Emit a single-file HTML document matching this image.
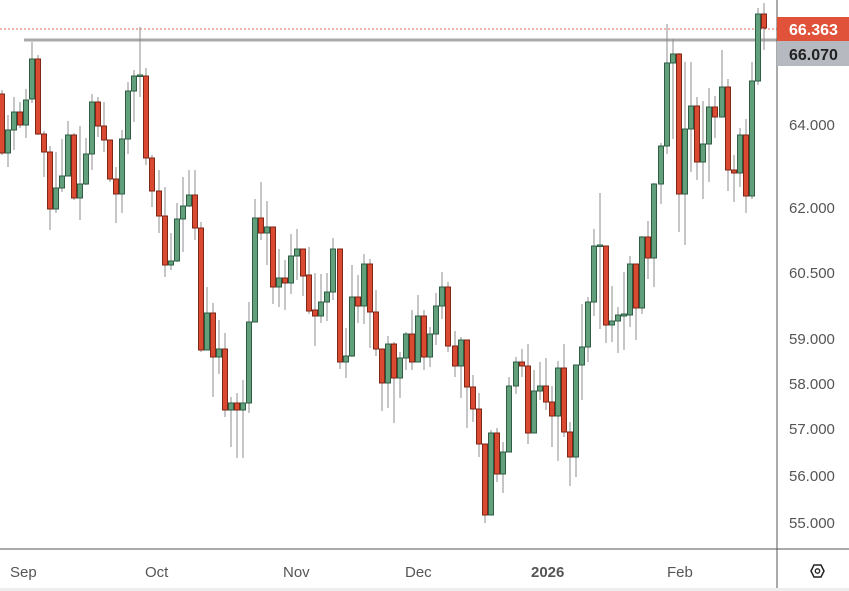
<!DOCTYPE html>
<html><head><meta charset="utf-8"><style>
html,body{margin:0;padding:0;background:#fff;}
svg{display:block;font-family:"Liberation Sans","DejaVu Sans",sans-serif;}
.w{stroke:#8c8c8c;stroke-width:1}
.g{fill:#62a07c;stroke:#2f5d44;stroke-width:1}
.r{fill:#d94a31;stroke:#7e2617;stroke-width:1}
.t{font-size:15px;fill:#555}
</style></head><body>
<svg width="849" height="591" viewBox="0 0 849 591">
<rect width="849" height="591" fill="#fff"/>
<rect x="0" y="588" width="849" height="3" fill="#eee"/>
<line x1="0" y1="29" x2="777" y2="29" stroke="#e06a5a" stroke-width="1" stroke-dasharray="2,2"/>
<line x1="24" y1="40" x2="777" y2="40" stroke="#aaa" stroke-width="3"/>
<g>
<line class="w" x1="2" y1="90" x2="2" y2="155"/><rect class="r" x="-0.5" y="94" width="5" height="59"/>
<line class="w" x1="8" y1="115" x2="8" y2="167"/><rect class="g" x="5.5" y="130" width="5" height="23"/>
<line class="w" x1="14" y1="97" x2="14" y2="150"/><rect class="g" x="11.5" y="112" width="5" height="18"/>
<line class="w" x1="20" y1="102" x2="20" y2="128"/><rect class="r" x="17.5" y="112" width="5" height="13"/>
<line class="w" x1="26" y1="89" x2="26" y2="138"/><rect class="g" x="23.5" y="100" width="5" height="25"/>
<line class="w" x1="32" y1="42" x2="32" y2="103"/><rect class="g" x="29.5" y="59" width="5" height="40"/>
<line class="w" x1="38" y1="55" x2="38" y2="135"/><rect class="r" x="35.5" y="59" width="5" height="75"/>
<line class="w" x1="44" y1="131" x2="44" y2="177"/><rect class="r" x="41.5" y="134" width="5" height="18"/>
<line class="w" x1="50" y1="146" x2="50" y2="230"/><rect class="r" x="47.5" y="152" width="5" height="57"/>
<line class="w" x1="56" y1="152" x2="56" y2="213"/><rect class="g" x="53.5" y="188" width="5" height="21"/>
<line class="w" x1="62" y1="139" x2="62" y2="192"/><rect class="g" x="59.5" y="176" width="5" height="12"/>
<line class="w" x1="68" y1="121" x2="68" y2="176"/><rect class="g" x="65.5" y="135" width="5" height="41"/>
<line class="w" x1="74" y1="133" x2="74" y2="200"/><rect class="r" x="71.5" y="135" width="5" height="63"/>
<line class="w" x1="80" y1="126" x2="80" y2="220"/><rect class="g" x="77.5" y="184" width="5" height="14"/>
<line class="w" x1="86" y1="138" x2="86" y2="185"/><rect class="g" x="83.5" y="154" width="5" height="30"/>
<line class="w" x1="92" y1="94" x2="92" y2="170"/><rect class="g" x="89.5" y="102" width="5" height="52"/>
<line class="w" x1="98" y1="97" x2="98" y2="137"/><rect class="r" x="95.5" y="102" width="5" height="24"/>
<line class="w" x1="104" y1="102" x2="104" y2="152"/><rect class="r" x="101.5" y="126" width="5" height="14"/>
<line class="w" x1="110" y1="140" x2="110" y2="182"/><rect class="r" x="107.5" y="140" width="5" height="39"/>
<line class="w" x1="116" y1="167" x2="116" y2="223"/><rect class="r" x="113.5" y="179" width="5" height="15"/>
<line class="w" x1="122" y1="130" x2="122" y2="213"/><rect class="g" x="119.5" y="139" width="5" height="55"/>
<line class="w" x1="128" y1="82" x2="128" y2="154"/><rect class="g" x="125.5" y="91" width="5" height="48"/>
<line class="w" x1="134" y1="70" x2="134" y2="122"/><rect class="g" x="131.5" y="76" width="5" height="15"/>
<line class="w" x1="140" y1="27" x2="140" y2="97"/><rect class="g" x="137.5" y="75" width="5" height="1.5"/>
<line class="w" x1="146" y1="68" x2="146" y2="165"/><rect class="r" x="143.5" y="76" width="5" height="82"/>
<line class="w" x1="152" y1="155" x2="152" y2="207"/><rect class="r" x="149.5" y="158" width="5" height="33"/>
<line class="w" x1="159" y1="170" x2="159" y2="233"/><rect class="r" x="156.5" y="191" width="5" height="25"/>
<line class="w" x1="165" y1="187" x2="165" y2="277"/><rect class="r" x="162.5" y="216" width="5" height="49"/>
<line class="w" x1="171" y1="233" x2="171" y2="270"/><rect class="g" x="168.5" y="261" width="5" height="4"/>
<line class="w" x1="177" y1="203" x2="177" y2="262"/><rect class="g" x="174.5" y="219" width="5" height="42"/>
<line class="w" x1="183" y1="177" x2="183" y2="252"/><rect class="g" x="180.5" y="206" width="5" height="13"/>
<line class="w" x1="189" y1="170" x2="189" y2="207"/><rect class="g" x="186.5" y="195" width="5" height="11"/>
<line class="w" x1="195" y1="170" x2="195" y2="240"/><rect class="r" x="192.5" y="195" width="5" height="33"/>
<line class="w" x1="201" y1="222" x2="201" y2="352"/><rect class="r" x="198.5" y="228" width="5" height="122"/>
<line class="w" x1="207" y1="287" x2="207" y2="350"/><rect class="g" x="204.5" y="313" width="5" height="37"/>
<line class="w" x1="213" y1="303" x2="213" y2="397"/><rect class="r" x="210.5" y="313" width="5" height="44"/>
<line class="w" x1="219" y1="320" x2="219" y2="374"/><rect class="g" x="216.5" y="349" width="5" height="8"/>
<line class="w" x1="225" y1="333" x2="225" y2="417"/><rect class="r" x="222.5" y="349" width="5" height="61"/>
<line class="w" x1="231" y1="397" x2="231" y2="447"/><rect class="g" x="228.5" y="403" width="5" height="7"/>
<line class="w" x1="237" y1="393" x2="237" y2="458"/><rect class="r" x="234.5" y="403" width="5" height="7"/>
<line class="w" x1="243" y1="380" x2="243" y2="458"/><rect class="g" x="240.5" y="403" width="5" height="7"/>
<line class="w" x1="249" y1="302" x2="249" y2="413"/><rect class="g" x="246.5" y="322" width="5" height="81"/>
<line class="w" x1="255" y1="199" x2="255" y2="322"/><rect class="g" x="252.5" y="218" width="5" height="104"/>
<line class="w" x1="261" y1="182" x2="261" y2="240"/><rect class="r" x="258.5" y="218" width="5" height="15"/>
<line class="w" x1="267" y1="201" x2="267" y2="265"/><rect class="g" x="264.5" y="227" width="5" height="6"/>
<line class="w" x1="273" y1="227" x2="273" y2="304"/><rect class="r" x="270.5" y="227" width="5" height="60"/>
<line class="w" x1="279" y1="249" x2="279" y2="307"/><rect class="g" x="276.5" y="278" width="5" height="9"/>
<line class="w" x1="285" y1="260" x2="285" y2="310"/><rect class="r" x="282.5" y="278" width="5" height="5"/>
<line class="w" x1="291" y1="234" x2="291" y2="294"/><rect class="g" x="288.5" y="256" width="5" height="27"/>
<line class="w" x1="297" y1="229" x2="297" y2="280"/><rect class="g" x="294.5" y="249" width="5" height="7"/>
<line class="w" x1="303" y1="249" x2="303" y2="296"/><rect class="r" x="300.5" y="249" width="5" height="27"/>
<line class="w" x1="309" y1="247" x2="309" y2="314"/><rect class="r" x="306.5" y="275" width="5" height="36"/>
<line class="w" x1="315" y1="273" x2="315" y2="346"/><rect class="r" x="312.5" y="310" width="5" height="6"/>
<line class="w" x1="321" y1="274" x2="321" y2="323"/><rect class="g" x="318.5" y="302" width="5" height="14"/>
<line class="w" x1="327" y1="273" x2="327" y2="321"/><rect class="g" x="324.5" y="292" width="5" height="10"/>
<line class="w" x1="333" y1="238" x2="333" y2="300"/><rect class="g" x="330.5" y="249" width="5" height="43"/>
<line class="w" x1="340" y1="249" x2="340" y2="369"/><rect class="r" x="337.5" y="249" width="5" height="113"/>
<line class="w" x1="346" y1="328" x2="346" y2="378"/><rect class="g" x="343.5" y="356" width="5" height="6"/>
<line class="w" x1="352" y1="265" x2="352" y2="357"/><rect class="g" x="349.5" y="297" width="5" height="59"/>
<line class="w" x1="358" y1="275" x2="358" y2="323"/><rect class="r" x="355.5" y="297" width="5" height="9"/>
<line class="w" x1="364" y1="254" x2="364" y2="324"/><rect class="g" x="361.5" y="264" width="5" height="42"/>
<line class="w" x1="370" y1="259" x2="370" y2="348"/><rect class="r" x="367.5" y="264" width="5" height="48"/>
<line class="w" x1="376" y1="290" x2="376" y2="356"/><rect class="r" x="373.5" y="312" width="5" height="37"/>
<line class="w" x1="382" y1="349" x2="382" y2="411"/><rect class="r" x="379.5" y="349" width="5" height="34"/>
<line class="w" x1="388" y1="336" x2="388" y2="408"/><rect class="g" x="385.5" y="344" width="5" height="39"/>
<line class="w" x1="394" y1="342" x2="394" y2="423"/><rect class="r" x="391.5" y="344" width="5" height="34"/>
<line class="w" x1="400" y1="352" x2="400" y2="398"/><rect class="g" x="397.5" y="358" width="5" height="20"/>
<line class="w" x1="406" y1="332" x2="406" y2="370"/><rect class="g" x="403.5" y="334" width="5" height="24"/>
<line class="w" x1="412" y1="310" x2="412" y2="370"/><rect class="r" x="409.5" y="334" width="5" height="28"/>
<line class="w" x1="418" y1="295" x2="418" y2="362"/><rect class="g" x="415.5" y="316" width="5" height="46"/>
<line class="w" x1="424" y1="310" x2="424" y2="370"/><rect class="r" x="421.5" y="316" width="5" height="41"/>
<line class="w" x1="430" y1="327" x2="430" y2="367"/><rect class="g" x="427.5" y="334" width="5" height="23"/>
<line class="w" x1="436" y1="293" x2="436" y2="345"/><rect class="g" x="433.5" y="306" width="5" height="28"/>
<line class="w" x1="442" y1="272" x2="442" y2="319"/><rect class="g" x="439.5" y="287" width="5" height="19"/>
<line class="w" x1="448" y1="282" x2="448" y2="352"/><rect class="r" x="445.5" y="287" width="5" height="59"/>
<line class="w" x1="455" y1="331" x2="455" y2="377"/><rect class="r" x="452.5" y="346" width="5" height="20"/>
<line class="w" x1="461" y1="337" x2="461" y2="398"/><rect class="g" x="458.5" y="340" width="5" height="26"/>
<line class="w" x1="467" y1="340" x2="467" y2="428"/><rect class="r" x="464.5" y="340" width="5" height="47"/>
<line class="w" x1="473" y1="375" x2="473" y2="422"/><rect class="r" x="470.5" y="387" width="5" height="22"/>
<line class="w" x1="479" y1="393" x2="479" y2="457"/><rect class="r" x="476.5" y="409" width="5" height="35"/>
<line class="w" x1="485" y1="444" x2="485" y2="523"/><rect class="r" x="482.5" y="444" width="5" height="71"/>
<line class="w" x1="491" y1="430" x2="491" y2="515"/><rect class="g" x="488.5" y="433" width="5" height="82"/>
<line class="w" x1="497" y1="428" x2="497" y2="482"/><rect class="r" x="494.5" y="433" width="5" height="41"/>
<line class="w" x1="503" y1="442" x2="503" y2="493"/><rect class="g" x="500.5" y="452" width="5" height="22"/>
<line class="w" x1="509" y1="377" x2="509" y2="452"/><rect class="g" x="506.5" y="386" width="5" height="66"/>
<line class="w" x1="516" y1="357" x2="516" y2="394"/><rect class="g" x="513.5" y="362" width="5" height="24"/>
<line class="w" x1="522" y1="349" x2="522" y2="377"/><rect class="r" x="519.5" y="362" width="5" height="4"/>
<line class="w" x1="528" y1="344" x2="528" y2="444"/><rect class="r" x="525.5" y="366" width="5" height="67"/>
<line class="w" x1="534" y1="370" x2="534" y2="433"/><rect class="g" x="531.5" y="391" width="5" height="42"/>
<line class="w" x1="540" y1="362" x2="540" y2="400"/><rect class="g" x="537.5" y="386" width="5" height="5"/>
<line class="w" x1="546" y1="358" x2="546" y2="410"/><rect class="r" x="543.5" y="386" width="5" height="16"/>
<line class="w" x1="552" y1="386" x2="552" y2="447"/><rect class="r" x="549.5" y="402" width="5" height="14"/>
<line class="w" x1="558" y1="361" x2="558" y2="461"/><rect class="g" x="555.5" y="368" width="5" height="48"/>
<line class="w" x1="564" y1="344" x2="564" y2="437"/><rect class="r" x="561.5" y="368" width="5" height="64"/>
<line class="w" x1="570" y1="422" x2="570" y2="486"/><rect class="r" x="567.5" y="432" width="5" height="25"/>
<line class="w" x1="576" y1="365" x2="576" y2="477"/><rect class="g" x="573.5" y="365" width="5" height="92"/>
<line class="w" x1="582" y1="304" x2="582" y2="400"/><rect class="g" x="579.5" y="347" width="5" height="18"/>
<line class="w" x1="588" y1="297" x2="588" y2="362"/><rect class="g" x="585.5" y="302" width="5" height="45"/>
<line class="w" x1="594" y1="229" x2="594" y2="316"/><rect class="g" x="591.5" y="246" width="5" height="56"/>
<line class="w" x1="600" y1="193" x2="600" y2="329"/><rect class="g" x="597.5" y="245" width="5" height="1.5"/>
<line class="w" x1="606" y1="246" x2="606" y2="343"/><rect class="r" x="603.5" y="246" width="5" height="79"/>
<line class="w" x1="612" y1="286" x2="612" y2="342"/><rect class="g" x="609.5" y="321" width="5" height="4"/>
<line class="w" x1="618" y1="307" x2="618" y2="353"/><rect class="g" x="615.5" y="315" width="5" height="6"/>
<line class="w" x1="624" y1="272" x2="624" y2="350"/><rect class="g" x="621.5" y="314" width="5" height="2"/>
<line class="w" x1="630" y1="256" x2="630" y2="327"/><rect class="g" x="627.5" y="264" width="5" height="51"/>
<line class="w" x1="636" y1="264" x2="636" y2="340"/><rect class="r" x="633.5" y="264" width="5" height="44"/>
<line class="w" x1="642" y1="236" x2="642" y2="314"/><rect class="g" x="639.5" y="237" width="5" height="71"/>
<line class="w" x1="648" y1="221" x2="648" y2="279"/><rect class="r" x="645.5" y="237" width="5" height="21"/>
<line class="w" x1="654" y1="183" x2="654" y2="287"/><rect class="g" x="651.5" y="184" width="5" height="74"/>
<line class="w" x1="661" y1="143" x2="661" y2="204"/><rect class="g" x="658.5" y="146" width="5" height="38"/>
<line class="w" x1="667" y1="24" x2="667" y2="154"/><rect class="g" x="664.5" y="63" width="5" height="83"/>
<line class="w" x1="673" y1="39" x2="673" y2="139"/><rect class="g" x="670.5" y="54" width="5" height="9"/>
<line class="w" x1="679" y1="53" x2="679" y2="232"/><rect class="r" x="676.5" y="54" width="5" height="140"/>
<line class="w" x1="685" y1="62" x2="685" y2="245"/><rect class="g" x="682.5" y="129" width="5" height="65"/>
<line class="w" x1="691" y1="62" x2="691" y2="172"/><rect class="g" x="688.5" y="106" width="5" height="23"/>
<line class="w" x1="697" y1="97" x2="697" y2="180"/><rect class="r" x="694.5" y="106" width="5" height="56"/>
<line class="w" x1="703" y1="101" x2="703" y2="199"/><rect class="g" x="700.5" y="144" width="5" height="18"/>
<line class="w" x1="709" y1="88" x2="709" y2="182"/><rect class="g" x="706.5" y="107" width="5" height="37"/>
<line class="w" x1="715" y1="96" x2="715" y2="138"/><rect class="r" x="712.5" y="107" width="5" height="10"/>
<line class="w" x1="722" y1="50" x2="722" y2="117"/><rect class="g" x="719.5" y="87" width="5" height="30"/>
<line class="w" x1="728" y1="79" x2="728" y2="191"/><rect class="r" x="725.5" y="87" width="5" height="83"/>
<line class="w" x1="734" y1="155" x2="734" y2="202"/><rect class="r" x="731.5" y="170" width="5" height="3"/>
<line class="w" x1="740" y1="128" x2="740" y2="187"/><rect class="g" x="737.5" y="135" width="5" height="38"/>
<line class="w" x1="746" y1="119" x2="746" y2="213"/><rect class="r" x="743.5" y="135" width="5" height="61"/>
<line class="w" x1="752" y1="62" x2="752" y2="199"/><rect class="g" x="749.5" y="81" width="5" height="115"/>
<line class="w" x1="758" y1="8" x2="758" y2="85"/><rect class="g" x="755.5" y="14" width="5" height="67"/>
<line class="w" x1="764" y1="3" x2="764" y2="50"/><rect class="r" x="761.5" y="14" width="5" height="14"/>
</g>
<line x1="777" y1="0" x2="777" y2="588" stroke="#555" stroke-width="1"/>
<line x1="0" y1="549" x2="849" y2="549" stroke="#555" stroke-width="1"/>
<rect x="777" y="17" width="72" height="24" fill="#e0523a"/>
<text x="789" y="35" font-size="16" font-weight="bold" fill="#fff">66.363</text>
<rect x="777" y="41" width="72" height="25" fill="#b6b9c0"/>
<text x="789" y="60" font-size="16" font-weight="bold" fill="#222">66.070</text>
<text class="t" x="789" y="130">64.000</text>
<text class="t" x="789" y="213">62.000</text>
<text class="t" x="789" y="278">60.500</text>
<text class="t" x="789" y="344">59.000</text>
<text class="t" x="789" y="389">58.000</text>
<text class="t" x="789" y="434">57.000</text>
<text class="t" x="789" y="481">56.000</text>
<text class="t" x="789" y="528">55.000</text>
<text class="t" x="10" y="577">Sep</text>
<text class="t" x="145" y="577">Oct</text>
<text class="t" x="283" y="577">Nov</text>
<text class="t" x="405" y="577">Dec</text>
<text class="t" x="531" y="577" font-weight="bold" fill="#333">2026</text>
<text class="t" x="667" y="577">Feb</text>
<polygon points="811,571 814,565 821,565 824,571 821,577 814,577" fill="none" stroke="#222" stroke-width="1.5"/>
<circle cx="817.5" cy="571" r="2.2" fill="none" stroke="#222" stroke-width="1.3"/>
</svg>
</body></html>
